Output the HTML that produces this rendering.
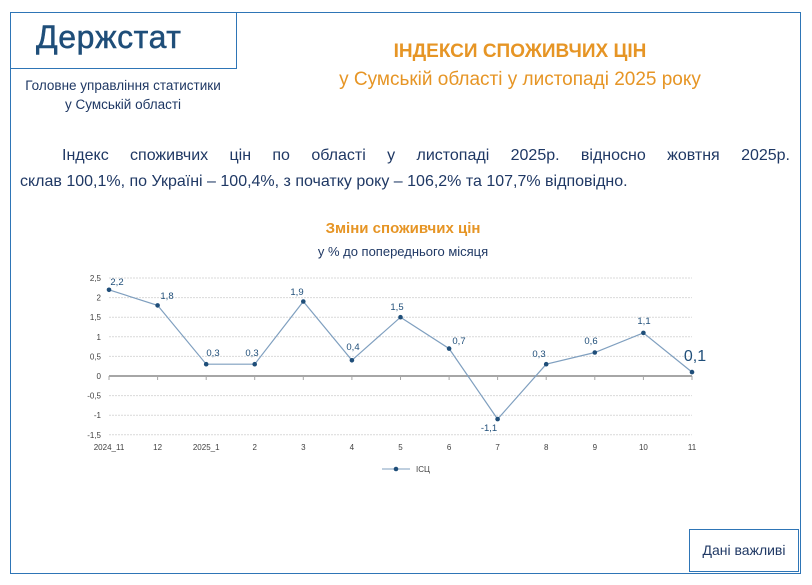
<!DOCTYPE html>
<html><head><meta charset="utf-8"><style>
body{margin:0;width:812px;height:585px;background:#fff;position:relative;font-family:"Liberation Sans","DejaVu Sans",sans-serif;overflow:hidden}
.a{position:absolute}
</style></head><body>
<div class="a" style="left:10px;top:12px;width:789px;height:560px;border:1px solid #2e75b6;"></div>
<div class="a" style="left:10px;top:12px;width:225px;height:55px;border:1px solid #2e75b6;"></div>
<div class="a" style="left:36px;top:19px;font-size:32px;color:#1f4e79;-webkit-text-stroke:0.5px #1f4e79;letter-spacing:0.6px">Держстат</div>
<div class="a" style="left:11px;top:76px;width:224px;text-align:center;font-size:13.5px;color:#1f3864;line-height:19px;">Головне управління статистики<br>у Сумській області</div>
<div class="a" style="left:240px;top:38px;width:560px;text-align:center;color:#e69525;font-size:19px;line-height:28px;"><b>ІНДЕКСИ СПОЖИВЧИХ ЦІН</b><br>у Сумській області у листопаді 2025 року</div>
<div class="a" style="left:20px;top:143px;width:770px;font-size:16px;color:#1f3864;line-height:26px;text-align:justify;text-align-last:justify;text-indent:42px;">Індекс споживчих цін по області у листопаді 2025р. відносно жовтня 2025р.</div>
<div class="a" style="left:20px;top:169px;width:770px;font-size:16px;color:#1f3864;line-height:26px;">склав 100,1%, по Україні – 100,4%, з початку року – 106,2% та 107,7% відповідно.</div>
<div class="a" style="left:0;top:220px;width:812px;text-align:center;color:#e69525;font-size:15px;font-weight:bold;margin-left:-3px">Зміни споживчих цін</div>
<div class="a" style="left:0;top:244px;width:812px;text-align:center;color:#1f3864;font-size:13px;margin-left:-3px">у % до попереднього місяця</div>
<svg class="a" style="left:0;top:0" width="812" height="585" font-family="Liberation Sans, DejaVu Sans, sans-serif">
<g stroke="#d9d9d9" stroke-dasharray="2,1" stroke-width="1">
<line x1="109" x2="692" y1="278" y2="278"/><line x1="109" x2="692" y1="297.6" y2="297.6"/><line x1="109" x2="692" y1="317.2" y2="317.2"/><line x1="109" x2="692" y1="336.8" y2="336.8"/><line x1="109" x2="692" y1="356.4" y2="356.4"/><line x1="109" x2="692" y1="395.6" y2="395.6"/><line x1="109" x2="692" y1="415.2" y2="415.2"/><line x1="109" x2="692" y1="434.8" y2="434.8"/>
</g>
<line x1="109" x2="692" y1="376" y2="376" stroke="#a6a6a6" stroke-width="2"/>
<g stroke="#a6a6a6"><line x1="109" x2="109" y1="376" y2="380"/><line x1="157.6" x2="157.6" y1="376" y2="380"/><line x1="206.2" x2="206.2" y1="376" y2="380"/><line x1="254.7" x2="254.7" y1="376" y2="380"/><line x1="303.3" x2="303.3" y1="376" y2="380"/><line x1="351.9" x2="351.9" y1="376" y2="380"/><line x1="400.5" x2="400.5" y1="376" y2="380"/><line x1="449.1" x2="449.1" y1="376" y2="380"/><line x1="497.6" x2="497.6" y1="376" y2="380"/><line x1="546.2" x2="546.2" y1="376" y2="380"/><line x1="594.8" x2="594.8" y1="376" y2="380"/><line x1="643.4" x2="643.4" y1="376" y2="380"/><line x1="692" x2="692" y1="376" y2="380"/></g>
<g font-size="8" fill="#404040" text-anchor="end">
<text x="101" y="281">2,5</text><text x="101" y="300.6">2</text><text x="101" y="320.2">1,5</text><text x="101" y="339.8">1</text><text x="101" y="359.4">0,5</text><text x="101" y="379">0</text><text x="101" y="398.6">-0,5</text><text x="101" y="418.2">-1</text><text x="101" y="437.8">-1,5</text>
</g>
<g font-size="8" fill="#404040" text-anchor="middle">
<text x="109" y="450">2024_11</text><text x="157.6" y="450">12</text><text x="206.2" y="450">2025_1</text><text x="254.7" y="450">2</text><text x="303.3" y="450">3</text><text x="351.9" y="450">4</text><text x="400.5" y="450">5</text><text x="449.1" y="450">6</text><text x="497.6" y="450">7</text><text x="546.2" y="450">8</text><text x="594.8" y="450">9</text><text x="643.4" y="450">10</text><text x="692" y="450">11</text>
</g>
<polyline fill="none" stroke="#7f9fbf" stroke-width="1.2" points="109,289.8 157.6,305.4 206.2,364.2 254.7,364.2 303.3,301.5 351.9,360.3 400.5,317.2 449.1,348.6 497.6,419.1 546.2,364.2 594.8,352.5 643.4,332.9 692,372.1"/>
<g fill="#1f4e79"><circle cx="109" cy="289.8" r="2.3"/><circle cx="157.6" cy="305.4" r="2.3"/><circle cx="206.2" cy="364.2" r="2.3"/><circle cx="254.7" cy="364.2" r="2.3"/><circle cx="303.3" cy="301.5" r="2.3"/><circle cx="351.9" cy="360.3" r="2.3"/><circle cx="400.5" cy="317.2" r="2.3"/><circle cx="449.1" cy="348.6" r="2.3"/><circle cx="497.6" cy="419.1" r="2.3"/><circle cx="546.2" cy="364.2" r="2.3"/><circle cx="594.8" cy="352.5" r="2.3"/><circle cx="643.4" cy="332.9" r="2.3"/><circle cx="692" cy="372.1" r="2.3"/></g>
<g font-size="9.5" fill="#1f4e79" text-anchor="middle">
<text x="117" y="285">2,2</text><text x="167" y="299">1,8</text><text x="213" y="356">0,3</text><text x="252" y="356">0,3</text><text x="297" y="295">1,9</text><text x="353" y="350">0,4</text><text x="397" y="310">1,5</text><text x="459" y="344">0,7</text><text x="489" y="431">-1,1</text><text x="539" y="357">0,3</text><text x="591" y="344">0,6</text><text x="644" y="324">1,1</text>
<text x="695" y="361" font-size="16">0,1</text>
</g>
<line x1="382" x2="410" y1="469" y2="469" stroke="#7f9fbf"/><circle cx="396" cy="469" r="2.3" fill="#1f4e79"/>
<text x="416" y="472" font-size="8" fill="#404040">ІСЦ</text>
</svg>
<div class="a" style="left:689px;top:529px;width:110px;height:43px;border:1px solid #2e75b6;box-sizing:border-box;text-align:center;line-height:41px;font-size:14px;color:#1f3864">Дані важливі</div>
</body></html>
